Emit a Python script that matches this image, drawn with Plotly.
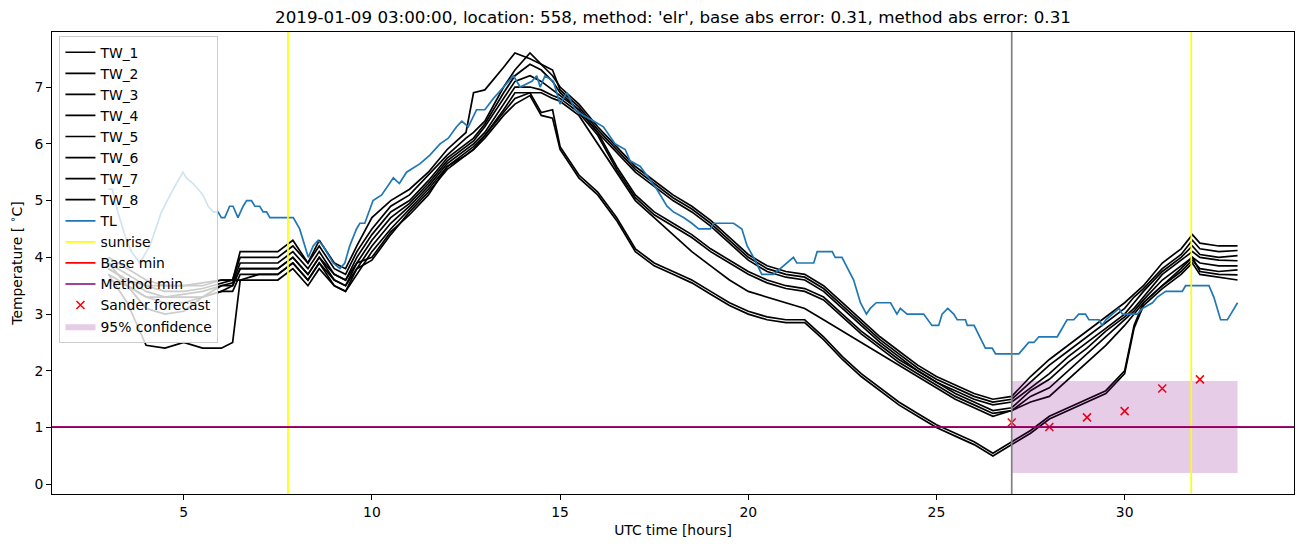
import plotly.graph_objects as go

TITLE = "2019-01-09 03:00:00, location: 558, method: 'elr', base abs error: 0.31, method abs error: 0.31"

TW_HOURS = [3.0, 3.5, 4.0, 4.5, 5.0, 5.5, 6.0, 6.3, 6.5, 7.0, 7.5, 7.9, 8.3, 8.6, 9.0, 9.3, 9.6,
            10.0, 10.5, 11.0, 11.5, 12.0, 12.5, 12.7, 13.0, 13.5, 13.8, 14.2, 14.5, 14.8, 15.0,
            15.5, 16.0, 16.5, 17.0, 17.5, 18.0, 18.5, 19.0, 19.5, 20.0, 20.5, 21.0, 21.5, 22.0,
            22.5, 23.0, 23.5, 24.0, 24.5, 25.0, 25.5, 26.0, 26.5, 27.0,
            27.5, 28.0, 28.5, 29.0, 29.5, 30.0, 30.25, 30.5, 31.0, 31.5, 31.8, 32.0, 32.5, 33.0]

TW_1 = [3.7, 3.2, 2.45, 2.4, 2.5, 2.4, 2.4, 2.5, 3.6, 3.7, 3.7, 3.9, 3.6, 3.9, 3.6, 3.5, 3.8,
        3.95, 4.4, 4.8, 5.15, 5.55, 5.8, 5.9, 6.1, 6.5, 6.7, 6.85, 6.5, 6.45, 5.9,
        5.4, 5.1, 4.65, 4.1, 3.85, 3.7, 3.55, 3.35, 3.15, 3.0, 2.9, 2.85, 2.85, 2.55, 2.2, 1.9, 1.65, 1.4, 1.2, 1.0, 0.85, 0.7, 0.5, 0.7,
        0.9, 1.15, 1.3, 1.45, 1.6, 1.95, 2.75, 3.15, 3.45, 3.7, 3.9, 3.7, 3.65, 3.6]
TW_2 = [3.9, 3.5, 3.1, 3.0, 3.05, 3.3, 3.5, 3.5, 3.8, 3.8, 3.8, 4.0, 3.7, 4.0, 3.7, 3.6, 3.9,
        4.0, 4.45, 4.75, 5.1, 5.6, 5.8, 5.9, 6.15, 6.55, 6.8, 6.9, 6.55, 6.6, 5.95,
        5.45, 5.15, 4.7, 4.15, 3.9, 3.75, 3.6, 3.4, 3.2, 3.05, 2.95, 2.9, 2.9, 2.6, 2.25, 1.95, 1.7, 1.45, 1.25, 1.05, 0.9, 0.75, 0.55, 0.75,
        0.95, 1.2, 1.35, 1.5, 1.65, 2.0, 2.8, 3.2, 3.5, 3.8, 4.0, 3.75, 3.7, 3.69]
TW_3 = [4.0, 3.8, 3.6, 3.5, 3.5, 3.5, 3.6, 3.6, 4.1, 4.1, 4.1, 4.3, 3.9, 4.3, 3.9, 3.8, 4.2,
        4.7, 5.0, 5.2, 5.5, 5.9, 6.2, 6.9, 6.95, 7.35, 7.6, 7.5, 7.4, 7.2, 7.0,
        6.7, 6.3, 5.95, 5.6, 5.35, 5.1, 4.9, 4.65, 4.35, 4.05, 3.85, 3.75, 3.7, 3.5, 3.2, 2.9, 2.6, 2.35, 2.1, 1.9, 1.75, 1.6, 1.5, 1.55,
        1.9, 2.2, 2.45, 2.7, 2.95, 3.2, 3.35, 3.5, 3.9, 4.15, 4.4, 4.25, 4.2, 4.2]
TW_4 = [3.9, 3.7, 3.5, 3.4, 3.4, 3.45, 3.55, 3.6, 4.0, 4.0, 4.0, 4.2, 3.9, 4.2, 3.8, 3.7, 4.1,
        4.5, 4.9, 5.1, 5.45, 5.8, 6.1, 6.2, 6.4, 7.0, 7.3, 7.6, 7.4, 7.3, 6.95,
        6.65, 6.25, 5.9, 5.55, 5.3, 5.05, 4.85, 4.6, 4.3, 4.0, 3.8, 3.7, 3.65, 3.45, 3.15, 2.85, 2.55, 2.3, 2.05, 1.85, 1.7, 1.55, 1.45, 1.5,
        1.8, 2.1, 2.35, 2.6, 2.85, 3.1, 3.3, 3.45, 3.8, 4.05, 4.3, 4.15, 4.1, 4.12]
TW_5 = [3.8, 3.6, 3.4, 3.3, 3.35, 3.4, 3.5, 3.55, 3.9, 3.9, 3.9, 4.1, 3.8, 4.1, 3.7, 3.6, 4.0,
        4.4, 4.8, 5.0, 5.35, 5.75, 6.0, 6.1, 6.35, 6.9, 7.2, 7.4, 7.3, 7.1, 6.9,
        6.6, 6.2, 5.85, 5.5, 5.25, 5.0, 4.8, 4.55, 4.25, 3.95, 3.75, 3.65, 3.6, 3.4, 3.1, 2.8, 2.5, 2.25, 2.0, 1.8, 1.65, 1.5, 1.4, 1.45,
        1.7, 1.95, 2.25, 2.5, 2.75, 3.0, 3.2, 3.4, 3.75, 4.0, 4.2, 4.05, 4.0, 4.03]
TW_6 = [3.7, 3.5, 3.3, 3.3, 3.3, 3.3, 3.4, 3.5, 3.8, 3.8, 3.8, 4.0, 3.7, 4.0, 3.6, 3.5, 3.9,
        4.3, 4.7, 4.95, 5.3, 5.7, 5.95, 6.05, 6.3, 6.8, 7.1, 7.2, 7.1, 6.95, 6.85,
        6.6, 6.2, 5.6, 5.1, 4.8, 4.6, 4.4, 4.15, 3.95, 3.75, 3.6, 3.5, 3.45, 3.3, 3.0, 2.7, 2.45, 2.2, 2.0, 1.8, 1.6, 1.45, 1.3, 1.35,
        1.65, 1.85, 2.15, 2.4, 2.7, 2.95, 3.1, 3.3, 3.7, 3.95, 4.1, 4.0, 3.95, 3.94]
TW_7 = [3.6, 3.5, 3.3, 3.2, 3.2, 3.3, 3.4, 3.4, 3.7, 3.7, 3.7, 3.9, 3.6, 3.9, 3.5, 3.4, 3.8,
        4.2, 4.6, 4.9, 5.25, 5.65, 5.9, 6.0, 6.2, 6.7, 7.0, 7.0, 6.95, 6.85, 6.8,
        6.55, 6.15, 5.55, 5.05, 4.75, 4.55, 4.35, 4.1, 3.9, 3.7, 3.55, 3.45, 3.4, 3.25, 2.95, 2.65, 2.4, 2.15, 1.95, 1.75, 1.55, 1.4, 1.25, 1.3,
        1.55, 1.7, 2.0, 2.3, 2.6, 2.9, 3.05, 3.25, 3.6, 3.85, 4.0, 3.9, 3.85, 3.85]
TW_8 = [3.8, 3.6, 3.5, 3.5, 3.5, 3.55, 3.6, 3.6, 3.6, 3.6, 3.6, 3.8, 3.5, 3.8, 3.5, 3.4, 3.7,
        4.1, 4.5, 4.85, 5.2, 5.6, 5.85, 5.95, 6.15, 6.6, 6.9, 6.9, 6.9, 6.8, 6.75,
        6.5, 6.0, 5.5, 5.0, 4.7, 4.4, 4.1, 3.85, 3.6, 3.4, 3.3, 3.2, 3.1, 2.9, 2.7, 2.5, 2.3, 2.1, 1.9, 1.7, 1.5, 1.35, 1.2, 1.3,
        1.45, 1.55, 1.85, 2.15, 2.45, 2.8, 3.0, 3.2, 3.5, 3.75, 3.95, 3.8, 3.75, 3.78]

TL_HOURS = [3.0, 3.1, 3.25, 3.43, 3.61, 3.83, 3.92, 4.1, 4.41, 4.72, 4.98, 5.07, 5.25, 5.38, 5.51, 5.65,
            5.78, 5.91, 6.0, 6.09, 6.22, 6.31, 6.44, 6.58, 6.67, 6.8, 6.89, 7.02, 7.11, 7.2, 7.29, 7.91,
            8.08, 8.31, 8.44, 8.57, 8.7, 8.97, 9.15, 9.28, 9.41, 9.59, 9.68, 9.81, 10.03, 10.26, 10.57,
            10.73, 10.92, 11.28, 11.54, 11.81, 12.03, 12.25, 12.39, 12.56, 12.78, 13.0, 13.23, 13.5,
            13.76, 13.94, 14.25, 14.38, 14.47, 14.6, 14.82, 15.0, 15.18, 15.4, 15.62, 15.89, 16.15,
            16.46, 16.73, 16.86, 17.13, 17.35, 17.57, 17.84, 18.01, 18.28, 18.5, 18.68, 18.99, 19.08,
            19.61, 19.83, 19.97, 20.14, 20.36, 20.67, 20.85, 21.03, 21.2, 21.29, 21.74, 21.83, 22.23,
            22.31, 22.49, 22.8, 22.98, 23.14, 23.24, 23.4, 23.78, 23.95, 24.04, 24.22, 24.66, 24.88,
            25.06, 25.15, 25.3, 25.46, 25.55, 25.77, 25.82, 26.0, 26.3, 26.48, 26.57, 27.19, 27.32,
            27.45, 27.59, 27.72, 28.21, 28.47, 28.65, 28.78, 28.96, 29.05, 29.32, 29.4, 29.5, 29.67,
            29.85, 29.94, 30.34, 30.47, 30.74, 30.87, 31.09, 31.53, 31.62, 32.24, 32.37, 32.55, 32.73,
            32.82, 33.0]
TL = [5.2, 5.2, 4.8, 4.4, 4.1, 3.9, 4.0, 4.2, 4.8, 5.2, 5.5, 5.4, 5.3, 5.2, 5.1, 4.9,
      4.8, 4.8, 4.7, 4.7, 4.9, 4.9, 4.7, 4.9, 5.0, 5.0, 4.9, 4.9, 4.8, 4.8, 4.7, 4.7,
      4.5, 4.0, 4.2, 4.3, 4.2, 3.9, 3.8, 3.9, 4.2, 4.5, 4.6, 4.6, 5.0, 5.1, 5.4,
      5.3, 5.5, 5.65, 5.8, 6.0, 6.1, 6.3, 6.4, 6.3, 6.6, 6.6, 6.8, 7.0,
      7.2, 7.0, 7.1, 7.2, 7.0, 7.2, 7.1, 6.7, 6.9, 6.6, 6.5, 6.4, 6.3,
      6.0, 5.9, 5.7, 5.6, 5.4, 5.2, 4.9, 4.8, 4.7, 4.6, 4.5, 4.5, 4.6,
      4.6, 4.5, 4.2, 4.0, 3.7, 3.7, 3.8, 3.9, 4.0, 3.9, 3.9, 4.1, 4.1,
      4.0, 4.0, 3.6, 3.2, 3.0, 3.1, 3.2, 3.2, 3.0, 3.1, 3.0, 3.0, 2.8,
      2.8, 3.0, 3.1, 3.0, 2.9, 2.9, 2.8, 2.8, 2.4, 2.4, 2.3, 2.3, 2.4,
      2.5, 2.5, 2.6, 2.6, 2.9, 2.9, 3.0, 3.0, 2.9, 2.9, 2.8, 2.9, 3.0,
      3.1, 3.0, 3.0, 3.1, 3.2, 3.3, 3.4, 3.4, 3.5, 3.5, 3.3, 2.9, 2.9,
      3.0, 3.2]

SUNRISE_HOURS = [7.77, 31.77]
FORECAST_START = 27.0
BASE_MIN = 1.01
METHOD_MIN = 1.01
SANDER_HOURS = [27, 28, 29, 30, 31, 32]
SANDER_FORECAST = [1.09, 1.01, 1.18, 1.29, 1.69, 1.85]
CONF_HOURS = [27.0, 33.0]
CONF_LOW = [0.2, 0.2]
CONF_HIGH = [1.82, 1.82]

TW_SERIES = [("TW_1", TW_1), ("TW_2", TW_2), ("TW_3", TW_3), ("TW_4", TW_4),
             ("TW_5", TW_5), ("TW_6", TW_6), ("TW_7", TW_7), ("TW_8", TW_8)]

FONT = "DejaVu Sans"
LW = 1.7

fig = go.Figure()
for name, vals in TW_SERIES:
    fig.add_trace(go.Scatter(x=TW_HOURS, y=vals, mode="lines", name=name,
                             line=dict(color="black", width=LW)))
fig.add_trace(go.Scatter(x=TL_HOURS, y=TL, mode="lines", name="TL",
                         line=dict(color="#1f77b4", width=LW)))
# legend-only entries for the reference lines (drawn as shapes below)
fig.add_trace(go.Scatter(x=[None], y=[None], mode="lines", name="sunrise",
                         line=dict(color="yellow", width=LW)))
fig.add_trace(go.Scatter(x=[None], y=[None], mode="lines", name="Base min",
                         line=dict(color="red", width=LW)))
fig.add_trace(go.Scatter(x=[None], y=[None], mode="lines", name="Method min",
                         line=dict(color="purple", width=LW)))
fig.add_trace(go.Scatter(x=SANDER_HOURS, y=SANDER_FORECAST, mode="markers", name="Sander forecast",
                         marker=dict(symbol="x-thin", size=8, line=dict(width=1.5, color="red"))))
fig.add_trace(go.Scatter(x=CONF_HOURS, y=CONF_LOW, mode="lines", line=dict(width=0, color="rgba(0,0,0,0)"),
                         showlegend=False, hoverinfo="skip"))
fig.add_trace(go.Scatter(x=CONF_HOURS, y=CONF_HIGH, mode="lines", name="95% confidence",
                         line=dict(width=0, color="rgba(0,0,0,0)"), fill="tonexty",
                         fillcolor="rgba(128,0,128,0.2)"))

for h in SUNRISE_HOURS:
    fig.add_vline(x=h, line=dict(color="yellow", width=LW))
fig.add_vline(x=FORECAST_START, line=dict(color="grey", width=LW))
fig.add_hline(y=BASE_MIN, line=dict(color="red", width=LW))
fig.add_hline(y=METHOD_MIN, line=dict(color="purple", width=LW))

all_x = TW_HOURS + TL_HOURS + CONF_HOURS
all_y = TW_1 + TW_2 + TW_3 + TW_4 + TW_5 + TW_6 + TW_7 + TW_8 + TL + CONF_LOW + CONF_HIGH + SANDER_FORECAST
x_lo, x_hi = min(all_x), max(all_x)
y_lo, y_hi = min(all_y), max(all_y)
xpad = 0.05 * (x_hi - x_lo)
ypad = 0.05 * (y_hi - y_lo)

axis_common = dict(showline=True, mirror=True, linecolor="black", linewidth=1,
                   ticks="outside", ticklen=5, tickwidth=1, tickcolor="black",
                   showgrid=False, zeroline=False, tickfont=dict(size=13.9, color="black"))

fig.update_layout(
    width=1302, height=547,
    margin=dict(l=52, r=8, t=32, b=53, pad=0),
    plot_bgcolor="white", paper_bgcolor="white",
    font=dict(family=FONT, size=13.9, color="black"),
    title=dict(text=TITLE, x=0.5, xref="paper", xanchor="center",
               y=1 - 17 / 547, yref="container", yanchor="middle",
               font=dict(size=16.7, color="black")),
    xaxis=dict(range=[x_lo - xpad, x_hi + xpad], tickvals=[5, 10, 15, 20, 25, 30],
               title=dict(text="UTC time [hours]", standoff=6, font=dict(size=13.9)), **axis_common),
    yaxis=dict(range=[y_lo - ypad, y_hi + ypad], tickvals=list(range(0, 8)),
               title=dict(text="Temperature [ <sup>∘</sup>C]", standoff=8, font=dict(size=13.9)), **axis_common),
    legend=dict(x=0.006, y=0.992, xanchor="left", yanchor="top", traceorder="normal",
                bgcolor="rgba(255,255,255,0.8)", bordercolor="#cccccc", borderwidth=1,
                font=dict(size=13.9, color="black"), itemwidth=30),
    showlegend=True,
)

fig.write_html("out.html", config={"displayModeBar": False},
               post_script="document.body.style.margin='0';document.body.style.overflow='hidden';")
